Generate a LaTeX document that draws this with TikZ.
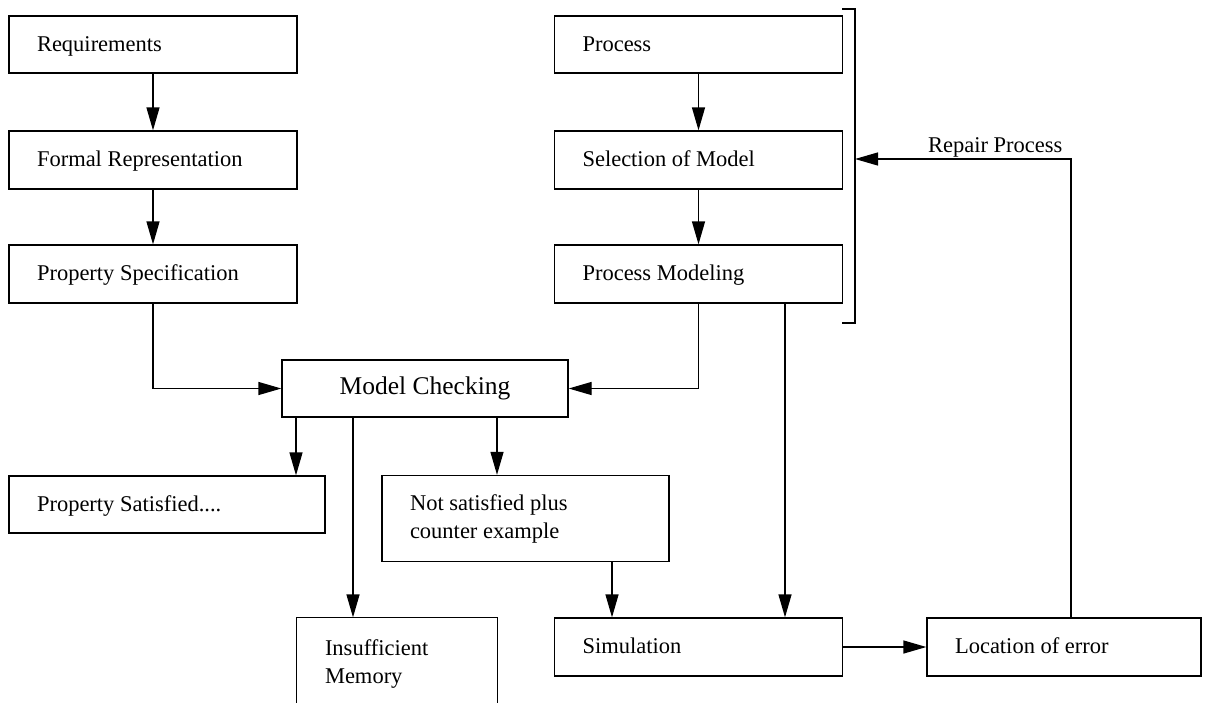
\documentclass[tikz,border=0pt]{standalone}
\usepackage{fontspec}
\setmainfont{Liberation Serif}
\usetikzlibrary{arrows.meta}
\begin{document}
\begin{tikzpicture}[x=1pt,y=-1pt,
  line width=1.3pt,
  box/.style={draw, rectangle, inner xsep=28pt, inner ysep=0pt,
    align=left, font=\fontsize{22.5}{28}\selectfont,
    execute at begin node={\spaceskip=0pt\xspaceskip=0pt}},
  onebox/.style={box, text height=16pt, text depth=3pt},
  centrebox/.style={draw, rectangle, inner sep=0pt,
    font=\fontsize{25.5}{30}\selectfont},
  arr/.style={-{Triangle[length=23pt,width=13pt]}}]
\useasboundingbox (0,0) rectangle (1206,702);

% left column
\node[onebox, text width=232pt, minimum height=57pt] (req) at (153,44.5) {Requirements};
\node[onebox, text width=232pt, minimum height=58pt] (formal) at (153,160) {Formal Representation};
\node[onebox, text width=232pt, minimum height=58pt] (prop) at (153,274) {Property Specification};

% right column
\node[onebox, text width=232pt, minimum height=57pt] (proc) at (698.5,44.5) {Process};
\node[onebox, text width=232pt, minimum height=58pt] (sel) at (698.5,160) {Selection of Model};
\node[onebox, text width=232pt, minimum height=58pt] (pmod) at (698.5,274) {Process Modeling};

% checker and its outcomes
\node[centrebox, minimum width=286pt, minimum height=57pt] (mc) at (425,388.5) {Model Checking};
\node[onebox, text width=260pt, minimum height=57pt] (psat) at (167,504.5) {Property Satisfied....};
\node[box, text width=231pt, minimum height=86pt] (nsat) at (525.5,518.5) {Not satisfied plus\\counter example};
% open-bottomed box, running off the lower edge
\node[box, draw=none, text width=144pt, minimum height=92pt] (mem) at (397,664) {Insufficient\\Memory};
\draw (mem.south west) -- (mem.north west) -- (mem.north east) -- (mem.south east);

\node[onebox, text width=232pt, minimum height=58pt] (sim) at (698.5,647) {Simulation};
\node[onebox, text width=218pt, minimum height=58pt] (loc) at (1064,647) {Location of error};

% bracket around the process steps
\coordinate (btop) at (842,9);
\coordinate (bbot) at (842,323);
\coordinate (brk) at (855,159);
\draw (btop) -- (855,9) -- (855,323) -- (bbot);

% connectors
\draw[arr] (req) -- (formal);
\draw[arr] (formal) -- (prop);
\draw[arr] (proc) -- (sel);
\draw[arr] (sel) -- (pmod);
\draw[arr] (prop.south) |- (mc.west);
\draw[arr] (pmod.south) |- (mc.east);
\draw[arr] (mc.south -| 296,0) -- (psat.north -| 296,0);
\draw[arr] (mc.south -| 353,0) -- (mem.north -| 353,0);
\draw[arr] (mc.south -| 497,0) -- (nsat.north -| 497,0);
\draw[arr] (nsat.south -| 612,0) -- (sim.north -| 612,0);
\draw[arr] (pmod.south -| 785,0) -- (sim.north -| 785,0);
\draw[arr] (sim) -- (loc);
\draw[arr] (loc.north -| 1071,0) |- (brk);
\node[anchor=base east, inner sep=0pt, font=\fontsize{22.5}{28}\selectfont] (rlabel) at (1063,152) {Repair Process};
\end{tikzpicture}
\end{document}
